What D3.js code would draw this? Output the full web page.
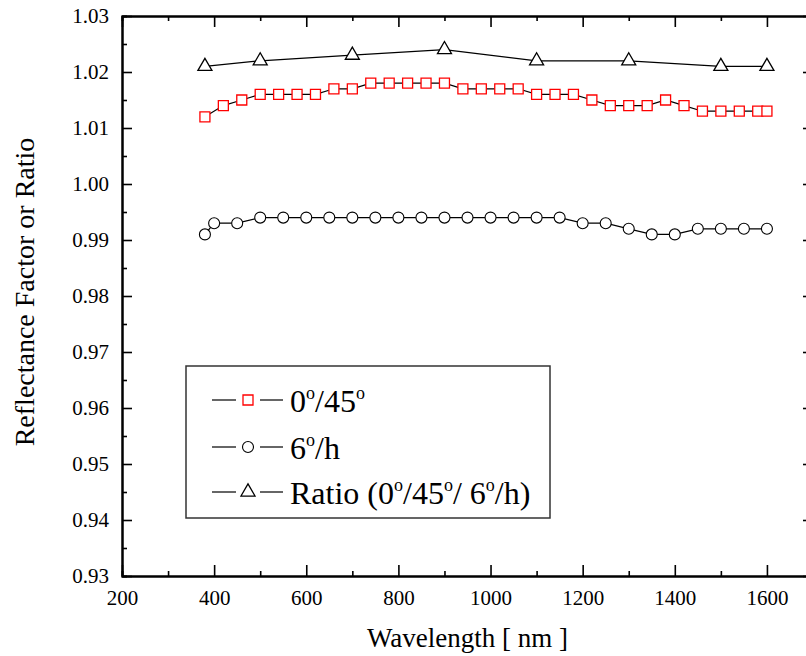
<!DOCTYPE html>
<html>
<head>
<meta charset="utf-8">
<script src="https://d3js.org/d3.v7.min.js"></script>
<style>
  body { margin: 0; background: #fff; }
  svg { display: block; }
</style>
</head>
<body>
<div id="chart"></div>
<script>
// wavelengths (nm) and values
var wlSquare = [380, 420, 460, 500, 540, 580, 620, 660, 700, 740, 780, 820, 860, 900, 940, 980,
                1020, 1060, 1100, 1140, 1180, 1220, 1260, 1300, 1340, 1380, 1420, 1460, 1500, 1540, 1580, 1600];
var rf045 = [1.012, 1.014, 1.015, 1.016, 1.016, 1.016, 1.016, 1.017, 1.017, 1.018, 1.018, 1.018, 1.018, 1.018, 1.017, 1.017,
             1.017, 1.017, 1.016, 1.016, 1.016, 1.015, 1.014, 1.014, 1.014, 1.015, 1.014, 1.013, 1.013, 1.013, 1.013, 1.013];

var wlCircle = [380, 400, 450, 500, 550, 600, 650, 700, 750, 800, 850, 900, 950, 1000,
                1050, 1100, 1150, 1200, 1250, 1300, 1350, 1400, 1450, 1500, 1550, 1600];
var rf6h = [0.991, 0.993, 0.993, 0.994, 0.994, 0.994, 0.994, 0.994, 0.994, 0.994, 0.994, 0.994, 0.994, 0.994,
            0.994, 0.994, 0.994, 0.993, 0.993, 0.992, 0.991, 0.991, 0.992, 0.992, 0.992, 0.992];

var wlRatio = [380, 500, 700, 900, 1100, 1300, 1500, 1600];
var ratio = [1.021, 1.022, 1.023, 1.024, 1.022, 1.022, 1.021, 1.021];

var xTicks = [200, 400, 600, 800, 1000, 1200, 1400, 1600];
var xMinor = [300, 500, 700, 900, 1100, 1300, 1500, 1700];
var yTicks = [0.93, 0.94, 0.95, 0.96, 0.97, 0.98, 0.99, 1.00, 1.01, 1.02, 1.03];
var yMinor = [0.935, 0.945, 0.955, 0.965, 0.975, 0.985, 0.995, 1.005, 1.015, 1.025];

var W = 806, H = 656;
var margin = {top: 16, left: 122};
var width = 691, height = 560;
var serif = "'Liberation Serif'";

var svg = d3.select("#chart").append("svg")
  .attr("width", W)
  .attr("height", H);

var g = svg.append("g")
  .attr("transform", "translate(" + margin.left + "," + margin.top + ")");

var x = d3.scaleLinear().domain([200, 1700]).range([0, width]);
var y = d3.scaleLinear().domain([0.93, 1.03]).range([height, 0]);

function styleAxis(sel, hideLabels) {
  sel.attr("font-family", null);
  sel.select(".domain").attr("stroke", "#000").attr("stroke-width", 2);
  sel.selectAll(".tick line").attr("stroke", "#000").attr("stroke-width", 1.6);
  sel.selectAll(".tick text")
    .attr("fill", "#000")
    .style("font-family", serif)
    .style("font-size", "21px");
  if (hideLabels) sel.selectAll(".tick text").remove();
}

// bottom axis
g.append("g")
  .attr("transform", "translate(0," + height + ")")
  .call(d3.axisBottom(x).tickValues(xTicks).tickSizeInner(-11).tickSizeOuter(0).tickPadding(14)
    .tickFormat(d3.format("d")))
  .call(styleAxis);
g.append("g")
  .attr("transform", "translate(0," + height + ")")
  .call(d3.axisBottom(x).tickValues(xMinor).tickSize(-5).tickFormat(""))
  .call(styleAxis, true);

// top axis
g.append("g")
  .call(d3.axisTop(x).tickValues(xTicks).tickSizeInner(-11).tickSizeOuter(0).tickFormat(""))
  .call(styleAxis, true);
g.append("g")
  .call(d3.axisTop(x).tickValues(xMinor).tickSize(-5).tickFormat(""))
  .call(styleAxis, true);

// left axis
g.append("g")
  .call(d3.axisLeft(y).tickValues(yTicks).tickSizeInner(-10).tickSizeOuter(0).tickPadding(13)
    .tickFormat(d3.format(".2f")))
  .call(styleAxis);
g.append("g")
  .call(d3.axisLeft(y).tickValues(yMinor).tickSize(-5).tickFormat(""))
  .call(styleAxis, true);

// right axis
g.append("g")
  .attr("transform", "translate(" + width + ",0)")
  .call(d3.axisRight(y).tickValues(yTicks).tickSizeInner(-10).tickSizeOuter(0).tickFormat(""))
  .call(styleAxis, true);
g.append("g")
  .attr("transform", "translate(" + width + ",0)")
  .call(d3.axisRight(y).tickValues(yMinor).tickSize(-5).tickFormat(""))
  .call(styleAxis, true);

// series
var series = [
  {wl: wlSquare, v: rf045, sym: d3.symbolSquare, size: 100, color: "#ff0000", sw: 1.3},
  {wl: wlCircle, v: rf6h, sym: d3.symbolCircle, size: 95, color: "#000", sw: 1.1},
  {wl: wlRatio, v: ratio, sym: d3.symbolTriangle, size: 85, color: "#000", sw: 1.3}
];

var line = d3.line()
  .x(function(d) { return x(d[0]); })
  .y(function(d) { return y(d[1]); });

series.forEach(function(s) {
  var pts = s.wl.map(function(w, i) { return [w, s.v[i]]; });
  g.append("path")
    .datum(pts)
    .attr("fill", "none")
    .attr("stroke", "#000")
    .attr("stroke-width", 1.2)
    .attr("d", line);
  g.selectAll(null)
    .data(pts)
    .enter()
    .append("path")
    .attr("transform", function(d) { return "translate(" + x(d[0]) + "," + y(d[1]) + ")"; })
    .attr("d", d3.symbol().type(s.sym).size(s.size))
    .attr("fill", "#fff")
    .attr("stroke", s.color)
    .attr("stroke-width", s.sw);
});

// axis titles
svg.append("text")
  .attr("x", margin.left + x(950))
  .attr("y", 647)
  .attr("text-anchor", "middle")
  .style("font-family", serif)
  .style("font-size", "27px")
  .text("Wavelength [ nm ]");

svg.append("text")
  .attr("transform", "translate(34,292) rotate(-90)")
  .attr("text-anchor", "middle")
  .style("font-family", serif)
  .style("font-size", "28px")
  .text("Reflectance Factor or Ratio");

// legend
var legend = svg.append("g").attr("transform", "translate(186,366)");
legend.append("rect")
  .attr("width", 364)
  .attr("height", 152)
  .attr("fill", "#fff")
  .attr("stroke", "#333")
  .attr("stroke-width", 1.5);

var legendItems = [
  {parts: [["0", 0], ["o", 1], ["/45", 0], ["o", 1]]},
  {parts: [["6", 0], ["o", 1], ["/h", 0]]},
  {parts: [["Ratio (0", 0], ["o", 1], ["/45", 0], ["o", 1], ["/ 6", 0], ["o", 1], ["/h)", 0]]}
];
var rowY = [34, 81, 126];

legendItems.forEach(function(item, i) {
  var s = series[i];
  var row = legend.append("g").attr("transform", "translate(0," + rowY[i] + ")");
  row.append("line").attr("x1", 26).attr("x2", 50).attr("stroke", "#000").attr("stroke-width", 1.2);
  row.append("line").attr("x1", 74).attr("x2", 97).attr("stroke", "#000").attr("stroke-width", 1.2);
  row.append("path")
    .attr("transform", "translate(62,0)")
    .attr("d", d3.symbol().type(s.sym).size(s.size))
    .attr("fill", "#fff")
    .attr("stroke", s.color)
    .attr("stroke-width", s.sw);
  var t = row.append("text")
    .attr("x", 104)
    .attr("y", 12)
    .style("font-family", serif)
    .style("font-size", "32px");
  var up = false;
  item.parts.forEach(function(p) {
    var sup = p[1] === 1;
    var dy = 0;
    if (sup && !up) { dy = -13; up = true; }
    else if (!sup && up) { dy = 13; up = false; }
    t.append("tspan")
      .attr("dy", dy)
      .style("font-size", sup ? "18px" : "32px")
      .text(p[0]);
  });
});
</script>
</body>
</html>
